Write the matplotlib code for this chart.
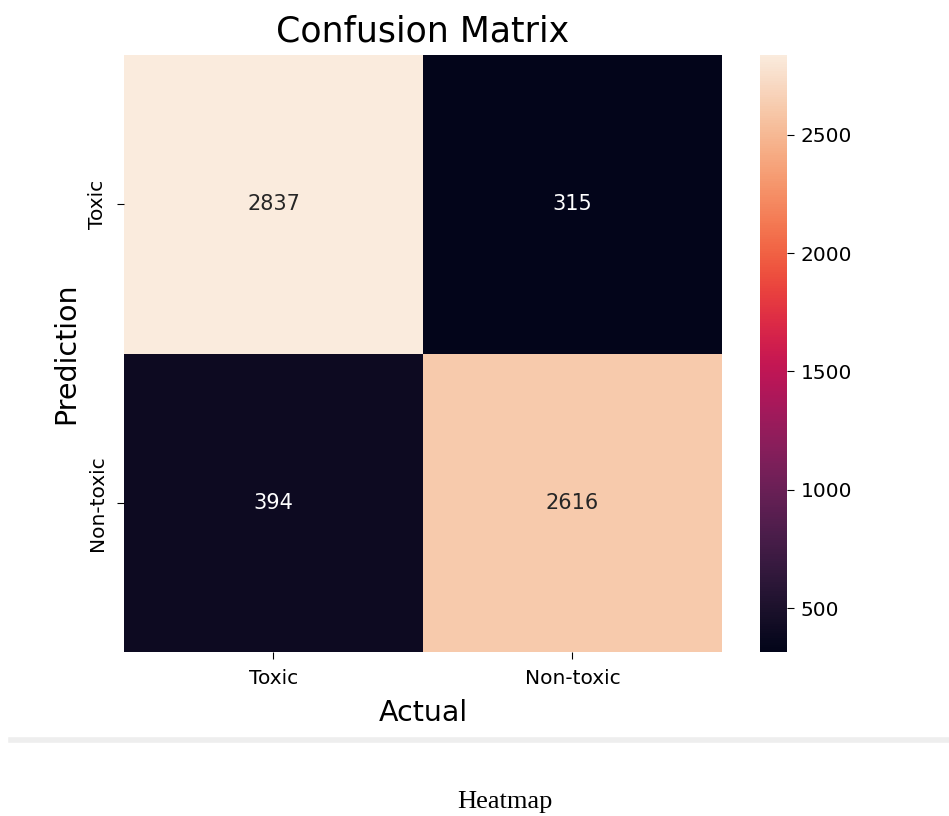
import numpy as np
import matplotlib
matplotlib.use("Agg")
import matplotlib.pyplot as plt
import seaborn as sns

# confusion matrix values (rows = prediction, cols = actual)
labels = ["Toxic", "Non-toxic"]
row_toxic = [2837, 315]
row_nontoxic = [394, 2616]
cm = np.array([row_toxic, row_nontoxic])
cbar_ticks = [500, 1000, 1500, 2000, 2500]

fig = plt.figure(figsize=(9.49, 8.16), dpi=100)
ax = fig.add_axes([124 / 949, 1 - 652 / 816, 598 / 949, 597 / 816])
cax = fig.add_axes([760 / 949, 1 - 652 / 816, 27 / 949, 597 / 816])

sns.heatmap(cm, annot=True, fmt="d", ax=ax, cbar_ax=cax,
            xticklabels=labels, yticklabels=labels,
            annot_kws={"size": 15})

ax.set_title("Confusion Matrix", fontsize=25, pad=10)
ax.set_xlabel("Actual", fontsize=20.5, labelpad=8)
ax.set_ylabel("Prediction", fontsize=20.5, labelpad=6)
ax.tick_params(axis="both", labelsize=14.5, length=5, pad=7)
cax.tick_params(labelsize=14.5, length=5, pad=5)
cax.set_yticks(cbar_ticks)

# separator line and caption below the chart
fig.add_artist(plt.Line2D([11 / 949, 1.0], [1 - 740 / 816, 1 - 740 / 816],
                          color="#eeeeee", linewidth=4))
fig.text(505 / 949, 1 - 808 / 816, "Heatmap", ha="center", va="baseline",
         fontsize=19, family="Liberation Serif")

fig.savefig("out.png", dpi=100)
